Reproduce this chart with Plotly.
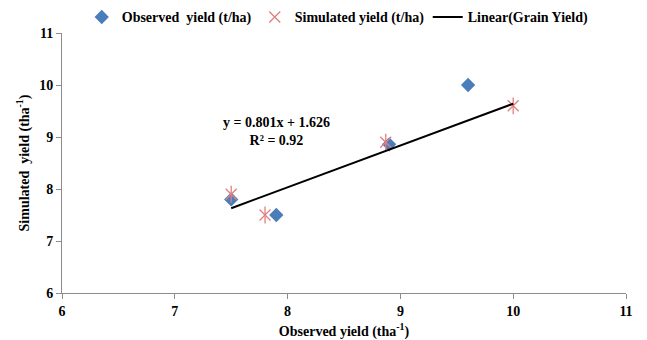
import plotly.graph_objects as go

obs_x = [7.5, 7.9, 8.9, 9.6]
obs_y = [7.8, 7.5, 8.86, 10.0]
sim_x = [7.5, 7.8, 8.87, 10.0]
sim_y = [7.9, 7.5, 8.9, 9.6]
trend_x = [7.5, 10.0]
trend_y = [7.63, 9.64]
ticks = [6, 7, 8, 9, 10, 11]
tick_labels = ["6", "7", "8", "9", "10", "11"]

FONT = "Liberation Serif"
SIM_COLOR = "#E07F7F"

fig = go.Figure()
fig.add_trace(go.Scatter(x=obs_x, y=obs_y, mode="markers", name="<b>Observed  yield (t/ha)</b>",
                         marker=dict(symbol="diamond", size=11, color="#4A7EBB")))
fig.add_trace(go.Scatter(x=sim_x, y=sim_y, mode="markers", name="<b>Simulated yield (t/ha)</b>",
                         marker=dict(symbol="x-thin-open", size=11, color=SIM_COLOR,
                                     line=dict(color=SIM_COLOR, width=1.3))))
fig.add_trace(go.Scatter(x=sim_x, y=sim_y, mode="markers", showlegend=False, hoverinfo="skip",
                         marker=dict(symbol="line-ns-open", size=12, color=SIM_COLOR,
                                     line=dict(color=SIM_COLOR, width=1.3))))
fig.add_trace(go.Scatter(x=trend_x, y=trend_y, mode="lines", name="<b>Linear(Grain Yield)</b>",
                         line=dict(color="black", width=2)))

fig.add_annotation(x=7.9, y=9.1, xref="x", yref="y", text="<b>y = 0.801x + 1.626<br>R² = 0.92</b>",
                   showarrow=False, font=dict(family=FONT, size=14, color="black"), align="center",
                   xanchor="center", yanchor="middle")

axis_common = dict(showgrid=False, zeroline=False, showline=True, linecolor="#8c8c8c", linewidth=1,
                   ticks="outside", tickcolor="#8c8c8c", ticklen=5,
                   tickfont=dict(family=FONT, size=14, color="black"),
                   range=[6, 11], tickvals=ticks, ticktext=["<b>%s</b>" % t for t in tick_labels])

fig.update_layout(
    width=639, height=332,
    margin=dict(l=54, r=21, t=25, b=47, autoexpand=False),
    paper_bgcolor="white", plot_bgcolor="white",
    font=dict(family=FONT, size=14, color="black"),
    showlegend=True,
    legend=dict(orientation="h", x=0.035, y=1.06, xanchor="left", yanchor="middle",
                font=dict(family=FONT, size=14, color="black"),
                bgcolor="rgba(0,0,0,0)", itemwidth=30, entrywidth=128, tracegroupgap=0),
    xaxis=dict(**axis_common,
               title=dict(text="<b>Observed yield (tha<sup>-1</sup>)</b>", standoff=8,
                          font=dict(family=FONT, size=14, color="black"))),
    yaxis=dict(**axis_common,
               title=dict(text="<b>Simulated  yield (tha<sup>-1</sup>)</b>", standoff=6,
                          font=dict(family=FONT, size=14, color="black"))),
)

fig.write_html("out.html")
